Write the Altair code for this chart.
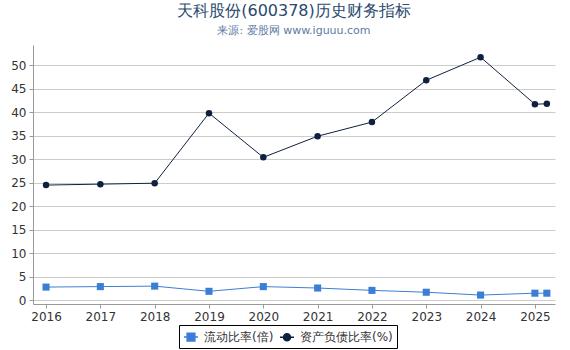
import altair as alt
import pandas as pd

years = [2016, 2017, 2018, 2019, 2020, 2021, 2022, 2023, 2024, 2025, 2025.22]
current_ratio = [2.8, 2.9, 3.0, 1.9, 2.9, 2.6, 2.1, 1.7, 1.1, 1.5, 1.5]
debt_ratio = [24.5, 24.7, 24.9, 39.8, 30.4, 34.9, 37.9, 46.8, 51.7, 41.7, 41.8]
series_names = ["流动比率(倍)", "资产负债比率(%)"]
colors = ["#3a7fd5", "#0f2140"]
tick_years = [2016, 2017, 2018, 2019, 2020, 2021, 2022, 2023, 2024, 2025]

rows = []
for y, c, d in zip(years, current_ratio, debt_ratio):
    rows.append({"year": y, "series": series_names[0], "value": c})
    rows.append({"year": y, "series": series_names[1], "value": d})
df = pd.DataFrame(rows)

FONT = "DejaVu Sans"

x = alt.X("year:Q", scale=alt.Scale(domain=[2015.76, 2025.37], nice=False, zero=False),
          axis=alt.Axis(values=tick_years, format="d", title=None, grid=False,
                        labelFont=FONT, labelFontSize=12, labelColor="#333333",
                        domainColor="#999999", tickColor="#999999", tickSize=4,
                        labelPadding=3))
y = alt.Y("value:Q", scale=alt.Scale(domain=[-0.8, 54.3], nice=False, zero=False),
          axis=alt.Axis(values=[0, 5, 10, 15, 20, 25, 30, 35, 40, 45, 50], title=None,
                        labelFont=FONT, labelFontSize=12, labelColor="#333333",
                        domainColor="#999999", tickColor="#999999", tickSize=4,
                        gridColor="#cccccc", labelPadding=3))

legend_shapes = [
    "M-1,0H1M-0.55,-0.55H0.55V0.55H-0.55Z",
    "M-1,0H1M0.5,0A0.5,0.5 0 1,1 -0.5,0A0.5,0.5 0 1,1 0.5,0",
]

leg = alt.Legend(title=None, orient="none", direction="horizontal",
                 legendX=146, legendY=280,
                 labelFont=FONT, labelFontSize=12, labelColor="#333333",
                 strokeColor="#000000", padding=4,
                 symbolSize=196, symbolStrokeWidth=1.5, symbolOpacity=1,
                 columnPadding=3, labelOffset=5)

scale_c = alt.Scale(domain=series_names, range=colors)

base = alt.Chart(df)
lines = base.mark_line(strokeWidth=1).encode(
    x=x, y=y, color=alt.Color("series:N", scale=scale_c, legend=None))
pts_c = base.transform_filter(alt.datum.series == series_names[0]).mark_square(
    size=50, opacity=1, color=colors[0]).encode(x=x, y=y)
pts_d = base.transform_filter(alt.datum.series == series_names[1]).mark_circle(
    size=42, opacity=1, color=colors[1]).encode(x=x, y=y)
legend_layer = base.transform_filter("false").mark_point(filled=True, opacity=1).encode(
    x=x, y=y,
    fill=alt.Fill("series:N", sort=series_names, scale=scale_c, legend=leg),
    stroke=alt.Stroke("series:N", sort=series_names, scale=scale_c, legend=leg),
    shape=alt.Shape("series:N", sort=series_names,
                    scale=alt.Scale(domain=series_names, range=legend_shapes), legend=leg),
)

chart = alt.layer(legend_layer, lines, pts_c, pts_d).properties(
    width=522, height=259, background="white",
    view=alt.ViewBackground(stroke="transparent", strokeWidth=0),
    title=alt.TitleParams(text="天科股份(600378)历史财务指标",
                          subtitle="来源: 爱股网 www.iguuu.com",
                          font=FONT, fontSize=16, fontWeight="normal", color="#2a4a6e",
                          subtitleFont=FONT, subtitleFontSize=11, subtitleColor="#5b7ba3",
                          anchor="middle", frame="group", offset=9, subtitlePadding=6),
    padding={"left": 33, "top": 45, "right": 15, "bottom": 46},
    autosize=alt.AutoSizeParams(type="none"),
).configure_view(stroke="transparent", strokeWidth=0)

chart.save("out.html", embed_options={"renderer": "svg", "actions": False})
